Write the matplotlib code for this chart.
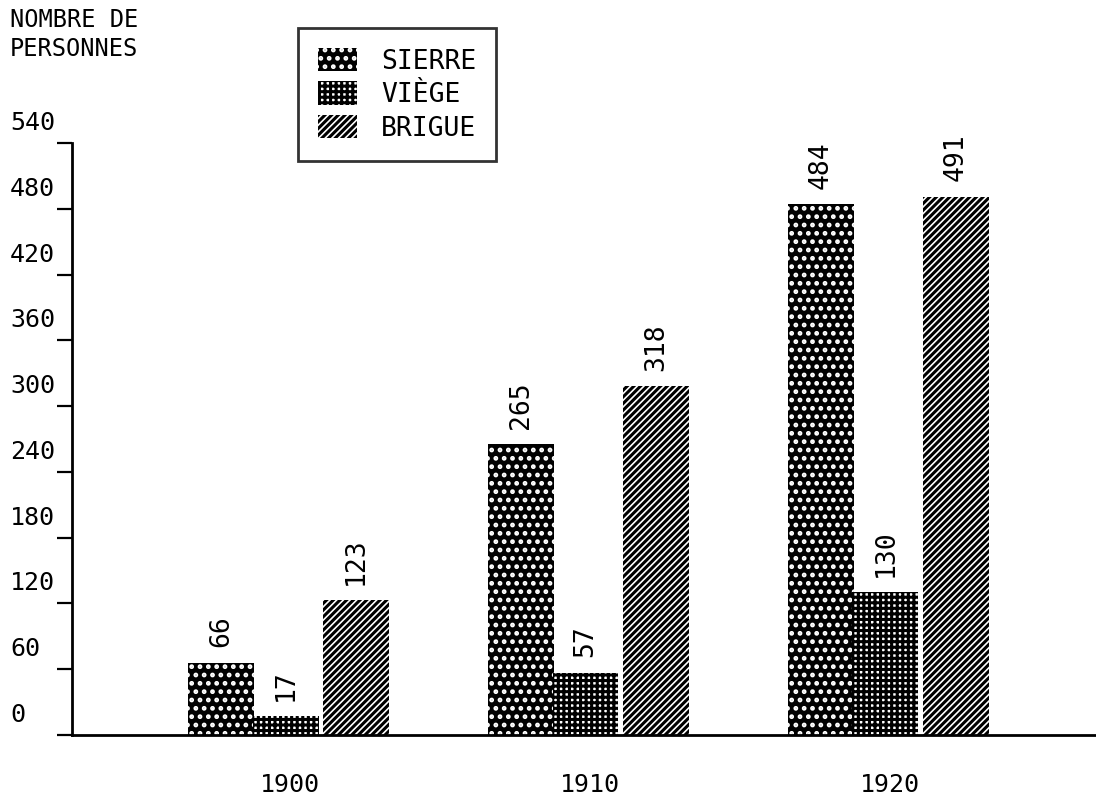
import matplotlib.pyplot as plt
import matplotlib.transforms as mtransforms
import numpy as np

# data
years = ["1900", "1910", "1920"]
sierre = [66, 265, 484]
viege = [17, 57, 130]
brigue = [123, 318, 491]
yticks = [0, 60, 120, 180, 240, 300, 360, 420, 480, 540]

plt.rcParams['font.family'] = ['DejaVu Sans Mono']
plt.rcParams['hatch.linewidth'] = 2.2

fig = plt.figure(figsize=(10.96, 7.96), dpi=100)
ax = fig.add_axes([72 / 1096, 61 / 796, 1 - 72 / 1096, 592 / 796])

x = np.arange(len(years))
w = 0.22
series = [
    ("SIERRE", sierre, -0.23, dict(color='black', hatch='..', edgecolor='white')),
    ("VIÈGE", viege, -0.015, dict(color='white', hatch='+++', edgecolor='black')),
    ("BRIGUE", brigue, 0.22, dict(color='white', hatch='/////', edgecolor='black')),
]

handles = []
for name, vals, off, style in series:
    bars = ax.bar(x + off, vals, w, label=name, linewidth=0, **style)
    handles.append(bars)
    for b, v in zip(bars, vals):
        ax.annotate(str(v), (b.get_x() + b.get_width() / 2, v),
                    xytext=(0, 11), textcoords='offset points',
                    rotation=90, ha='center', va='bottom', fontsize=19)

ax.set_xlim(-0.727, 2.687)
ax.set_ylim(0, 540)

for s in ['top', 'right']:
    ax.spines[s].set_visible(False)
ax.spines['left'].set_linewidth(2)
ax.spines['bottom'].set_linewidth(2)

ax.set_yticks(yticks)
ax.set_yticklabels([])
ax.tick_params(axis='y', direction='out', length=11, width=1.6)
tr = mtransforms.blended_transform_factory(fig.transFigure, ax.transData)
off = mtransforms.ScaledTranslation(0, 0.08, fig.dpi_scale_trans)
for v in yticks:
    ax.text(10 / 1096, v, str(v), transform=tr + off, ha='left',
            va='bottom', fontsize=18, clip_on=False)

ax.set_xticks(x)
ax.set_xticklabels(years, fontsize=18)
ax.tick_params(axis='x', length=0, pad=27)

fig.text(10 / 1096, 1 - 8 / 796, "NOMBRE DE\nPERSONNES", ha='left', va='top',
         fontsize=17, linespacing=1.25)

leg = ax.legend(handles=handles, loc='upper left',
                bbox_to_anchor=(298 / 1096, 1 - 28 / 796),
                bbox_transform=fig.transFigure, fontsize=19,
                frameon=True, fancybox=False, handlelength=1.5,
                handleheight=1.0, handletextpad=0.9, labelspacing=0.25,
                borderpad=0.75, borderaxespad=0)
leg.get_frame().set_edgecolor('black')
leg.get_frame().set_linewidth(2)

fig.savefig("out.png", dpi=100)
